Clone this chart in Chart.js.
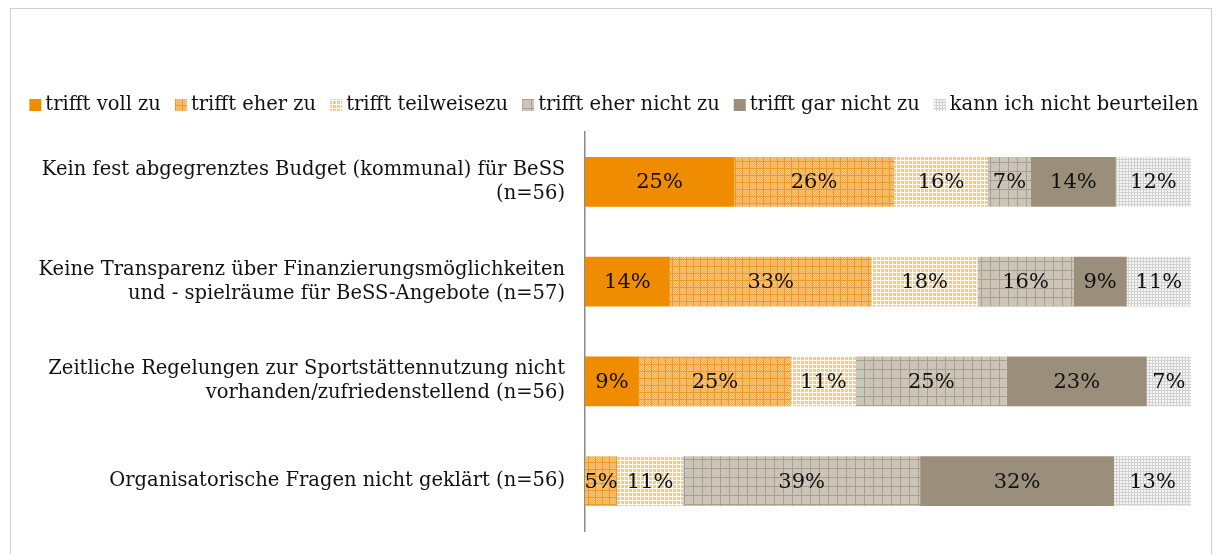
<!DOCTYPE html>
<html><head><meta charset="utf-8">
<script src="https://cdn.jsdelivr.net/npm/chart.js@4"></script>
<style>
html,body{margin:0;padding:0;background:#fff;}
#wrap{position:relative;width:1216px;height:554px;}
#frame{position:absolute;left:10px;top:8px;width:1202px;height:560px;border:1.5px solid #d0d0d0;box-sizing:border-box;}
canvas{position:absolute;left:0;top:0;}
</style></head>
<body><div id="wrap"><div id="frame"></div><canvas id="c" width="1216" height="554"></canvas></div>
<script>
const categories = [
  ["Kein fest abgegrenztes Budget (kommunal) für BeSS", "(n=56)"],
  ["Keine Transparenz über Finanzierungsmöglichkeiten", "und - spielräume für BeSS-Angebote (n=57)"],
  ["Zeitliche Regelungen zur Sportstättennutzung nicht", "vorhanden/zufriedenstellend (n=56)"],
  ["Organisatorische Fragen nicht geklärt (n=56)"]
];
const seriesNames = ["trifft voll zu","trifft eher zu","trifft teilweisezu","trifft eher nicht zu","trifft gar nicht zu","kann ich nicht beurteilen"];
const trifftVollZu      = [24.6, 14.0, 8.9, 0];
const trifftEherZu      = [26.4, 33.3, 25.1, 5.3];
const trifftTeilweise   = [15.5, 17.5, 10.7, 10.9];
const trifftEherNicht   = [7.1, 15.8, 24.9, 39.1];
const trifftGarNicht    = [14.0, 8.8, 23.1, 32.0];
const kannNichtBeurteil = [12.4, 10.6, 7.3, 12.7];
const seriesValues = [trifftVollZu, trifftEherZu, trifftTeilweise, trifftEherNicht, trifftGarNicht, kannNichtBeurteil];

const FONT = '"DejaVu Serif", serif';

function pat(size, bg, line, step, dot){
  const c = document.createElement('canvas'); c.width = size; c.height = size;
  const g = c.getContext('2d');
  g.fillStyle = bg; g.fillRect(0,0,size,size);
  if (dot){ g.fillStyle = dot; for(let y=0;y<size;y++)for(let x=(y%2);x<size;x+=2)g.fillRect(x,y,1,1); }
  g.fillStyle = line;
  for(let i=0;i<size;i+=step){ g.fillRect(i,0,1,size); g.fillRect(0,i,size,1); }
  return document.getElementById('c').getContext('2d').createPattern(c,'repeat');
}
const fills = [
  '#F08C00',
  pat(7, '#F6AE4E', '#F09A22', 7, '#F9C886'),
  pat(4, '#F9C88A', '#FFFFFF', 4, null),
  pat(9, '#D2CBBF', '#A99F8F', 9, '#C6BEB1'),
  '#9B8F7C',
  pat(3, '#F6F6F6', '#D0D0D0', 3, null)
];

const labelPlugin = {
  id:'segLabels',
  afterDatasetsDraw(chart){
    const ctx = chart.ctx;
    ctx.save();
    ctx.font = '21px ' + FONT;
    ctx.fillStyle = '#111';
    ctx.textAlign = 'center'; ctx.textBaseline = 'middle';
    chart.data.datasets.forEach((ds, di) => {
      const meta = chart.getDatasetMeta(di);
      meta.data.forEach((el, i) => {
        const v = ds.data[i];
        if (!v) return;
        ctx.fillText(Math.round(v) + '%', (el.x + el.base)/2, el.y + 1);
      });
    });
    ctx.restore();
  }
};

const legendPlugin = {
  id:'customLegend',
  afterDraw(chart){
    const ctx = chart.ctx;
    ctx.save();
    ctx.font = '19.5px ' + FONT;
    const box = 12, gap = 4, itemGap = 14;
    const widths = chart.data.datasets.map(d => ctx.measureText(d.label).width);
    const total = widths.reduce((a,w)=>a+box+gap+w,0) + itemGap*(widths.length-1);
    let x = 614 - total/2;
    const y = 105;
    chart.data.datasets.forEach((d,i) => {
      ctx.fillStyle = d.backgroundColor;
      ctx.fillRect(x, y - box/2, box, box);
      x += box + gap;
      ctx.fillStyle = '#111';
      ctx.textBaseline = 'middle'; ctx.textAlign = 'left';
      ctx.fillText(d.label, x, y);
      x += widths[i] + itemGap;
    });
    ctx.restore();
  }
};

new Chart(document.getElementById('c'), {
  type:'bar',
  data:{
    labels: categories,
    datasets: seriesNames.map((n,i)=>({label:n, data:seriesValues[i], backgroundColor:fills[i], borderWidth:0, barPercentage:0.5, categoryPercentage:1.0}))
  },
  options:{
    indexAxis:'y',
    responsive:false,
    animation:false,
    layout:{padding:{top:132,right:25,bottom:23,left:10}},
    plugins:{
      legend:{display:false},
      tooltip:{enabled:false}
    },
    scales:{
      x:{stacked:true,min:0,max:100,display:false},
      y:{stacked:true,
        grid:{display:false,drawTicks:false,tickLength:0},
        border:{display:true,color:'#8a8a8a',width:1.5},
        ticks:{color:'#111',padding:20,font:{family:FONT,size:19.5,lineHeight:1.23}},
        afterFit(s){ s.width = 575; s.paddingTop = 0; s.paddingBottom = 0; }
      }
    }
  },
  plugins:[labelPlugin, legendPlugin]
});
</script></body></html>
